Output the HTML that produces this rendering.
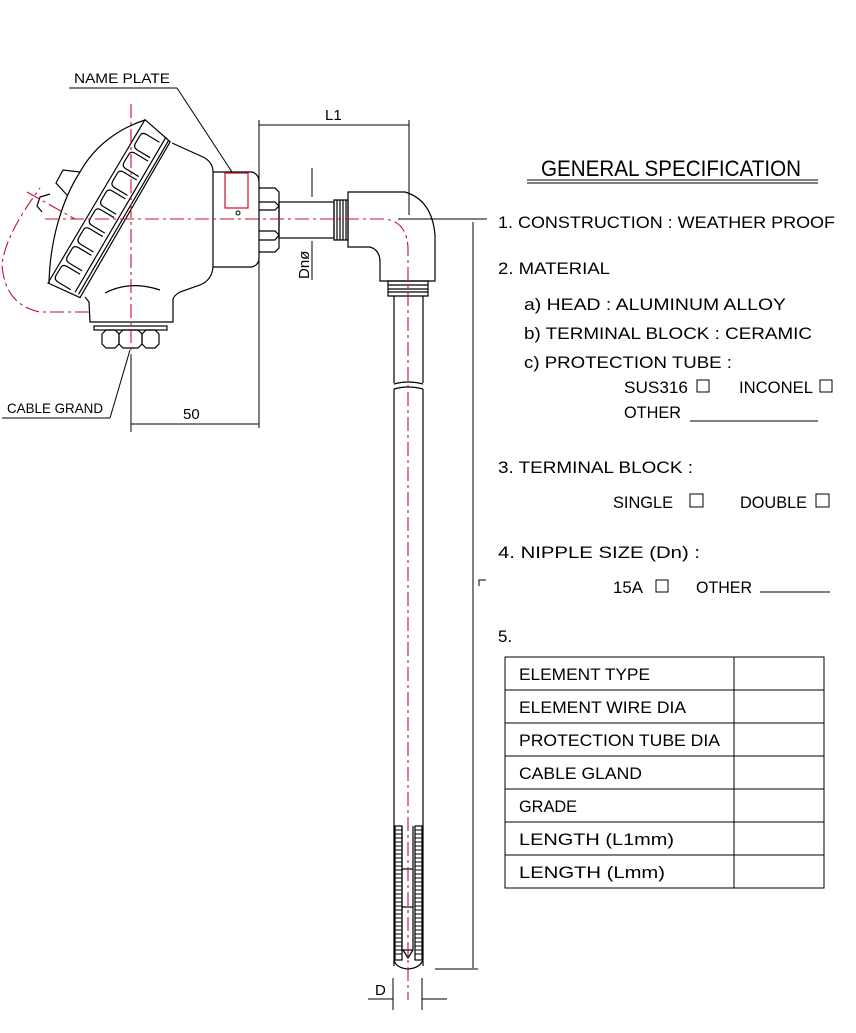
<!DOCTYPE html>
<html><head><meta charset="utf-8"><style>
html,body{margin:0;padding:0;background:#fff}
svg{display:block}
text{font-family:"Liberation Sans",sans-serif;fill:#000}
</style></head><body>
<svg width="856" height="1033" viewBox="0 0 856 1033" xmlns="http://www.w3.org/2000/svg">
<g fill="none" stroke="#000" stroke-width="1.2">
<path d="M145,120 C120,128 95,145 80,172 C62,200 50,240 49,283"/>
<g transform="translate(48,283) rotate(-59)">
<path d="M0,0 L190,-1 L184,32 L4,35 Z"/>
<line x1="6" y1="28" x2="186" y2="26"/>
<line x1="6" y1="32" x2="184" y2="30"/>
<path d="M6,23 L6,8 Q6,3 11,3 L20,3 Q24,3 24,8 L24,23"/>
<path d="M28,23 L28,8 Q28,3 33,3 L42,3 Q46,3 46,8 L46,23"/>
<path d="M50,23 L50,8 Q50,3 55,3 L64,3 Q68,3 68,8 L68,23"/>
<path d="M72,23 L72,8 Q72,3 77,3 L86,3 Q90,3 90,8 L90,23"/>
<path d="M94,23 L94,8 Q94,3 99,3 L108,3 Q112,3 112,8 L112,23"/>
<path d="M116,23 L116,8 Q116,3 121,3 L130,3 Q134,3 134,8 L134,23"/>
<path d="M138,23 L138,8 Q138,3 143,3 L152,3 Q156,3 156,8 L156,23"/>
<path d="M160,23 L160,8 Q160,3 165,3 L174,3 Q178,3 178,8 L178,23"/>
</g>
<path d="M172,143 L203,157 Q213,162 213,172 L213,267 Q212,280 200,285 L180,292 Q173,296 173,300 L173,322 L90,322 L89,302 L85,297"/>
<path d="M105,293 Q130,280 160,290"/>
<path d="M80,172 L63,170 L56,183 L67,195"/>
<path d="M50,194 L40,197 L37,206 L42,212"/>
<path d="M213,172 L252,172 Q259,174 259,182 L259,258 Q259,265 252,267 L213,267"/>
<rect x="94" y="326" width="73" height="4"/>
<path d="M102,334 L106,330 L115,330 L119,334 L119,344 L115,348 L106,348 L102,344 Z"/>
<path d="M119,334 L123,330 L138,330 L142,334 L142,344 L138,348 L123,348 L119,344 Z"/>
<path d="M142,334 L146,330 L155,330 L159,334 L159,344 L155,348 L146,348 L142,344 Z"/>
<path d="M259,188 L275,188 L279,192 L279,248 L275,252 L259,252"/>
<path d="M259,202 L275,202 L279,206 L275,210 L259,210"/>
<path d="M259,231 L275,231 L279,235 L275,240 L259,240"/>
<rect x="279" y="202" width="55" height="36"/>
<path d="M334,200 L348,200 L348,240 L334,240 Z"/>
<line x1="337" y1="200" x2="337" y2="240"/><line x1="340" y1="200" x2="340" y2="240"/><line x1="343" y1="200" x2="343" y2="240"/><line x1="346" y1="200" x2="346" y2="240"/>
<path d="M348,192 L348,247 L370,247 Q380,250 380,262 L380,281 L435,281 L435,235 Q432,200 405,192 Z"/>
<path d="M388,281 L428,281 L428,296 L388,296 Z"/>
<line x1="388" y1="285" x2="428" y2="285"/><line x1="388" y1="289" x2="428" y2="289"/><line x1="388" y1="292" x2="428" y2="292"/>
<line x1="394" y1="296" x2="394" y2="383"/><line x1="423" y1="296" x2="423" y2="383"/>
<line x1="394" y1="389" x2="394" y2="966"/><line x1="423" y1="389" x2="423" y2="966"/>
<path d="M394,384 Q408,380 423,384"/><path d="M394,389 Q408,385 423,389"/>
<rect x="395" y="826" width="7" height="134"/><rect x="415" y="826" width="7" height="134"/>
<line x1="402" y1="826" x2="402" y2="950"/><line x1="413" y1="826" x2="413" y2="950"/>
<line x1="402" y1="950" x2="413" y2="950"/>
<line x1="402" y1="869" x2="413" y2="869"/><line x1="402" y1="907" x2="413" y2="907"/>
<path d="M403,950 L408,958 L413,950"/>
<path d="M394,960 Q396,968 408,969 Q420,968 423,960"/>
</g>
<g stroke="#000" stroke-width="1">
<path d="M395,830H402M395,834H402M395,838H402M395,842H402M395,846H402M395,850H402M395,854H402M395,858H402M395,862H402M395,866H402M395,870H402M395,874H402M395,878H402M395,882H402M395,886H402M395,890H402M395,894H402M395,898H402M395,902H402M395,906H402M395,910H402M395,914H402M395,918H402M395,922H402M395,926H402M395,930H402M395,934H402M395,938H402M395,942H402M395,946H402M395,950H402M395,954H402"/>
<path d="M415,830H422M415,834H422M415,838H422M415,842H422M415,846H422M415,850H422M415,854H422M415,858H422M415,862H422M415,866H422M415,870H422M415,874H422M415,878H422M415,882H422M415,886H422M415,890H422M415,894H422M415,898H422M415,902H422M415,906H422M415,910H422M415,914H422M415,918H422M415,922H422M415,926H422M415,930H422M415,934H422M415,938H422M415,942H422M415,946H422M415,950H422M415,954H422"/>
</g>
<g fill="none" stroke="#c8102e" stroke-width="1.1" stroke-dasharray="14,4,3,4">
<line x1="131" y1="104" x2="131" y2="355"/>
<path d="M45,219 L385,219 Q408,222 408,250 L408,1000"/>
<path d="M89,312 L40,312 Q5,305 2,265 Q5,235 40,188"/>
<line x1="27" y1="192" x2="75" y2="219"/>
</g>
<rect x="225" y="173" width="23" height="35" fill="none" stroke="#c8102e" stroke-width="1.2"/>
<circle cx="238" cy="213" r="2" fill="none" stroke="#000"/>
<g fill="none" stroke="#000" stroke-width="1">
<line x1="259" y1="120" x2="259" y2="428"/>
<line x1="409" y1="120" x2="409" y2="215"/>
<line x1="259" y1="125" x2="409" y2="125"/>
<line x1="131" y1="355" x2="131" y2="432"/>
<line x1="131" y1="424" x2="259" y2="424"/>
<line x1="398" y1="219" x2="487" y2="219"/>
<line x1="312" y1="168" x2="312" y2="197"/>
<line x1="312" y1="241" x2="312" y2="280"/>
<line x1="69" y1="88" x2="177" y2="88"/><line x1="177" y1="88" x2="232" y2="172"/>
<line x1="2" y1="418" x2="110" y2="418"/><line x1="110" y1="418" x2="130" y2="350"/>
<line x1="473" y1="222" x2="473" y2="968"/>
<line x1="435" y1="969" x2="478" y2="969"/>
<path d="M479,586 L479,580 L486,580"/>
<line x1="393" y1="978" x2="393" y2="1010"/><line x1="422" y1="978" x2="422" y2="1010"/>
<line x1="368" y1="999" x2="393" y2="999"/><line x1="422" y1="999" x2="447" y2="999"/>
<line x1="527" y1="180" x2="818" y2="180"/><line x1="527" y1="183" x2="818" y2="183"/>
<line x1="690" y1="421" x2="818" y2="421"/>
<line x1="760" y1="592" x2="830" y2="592"/>
<rect x="697" y="380" width="12" height="12"/><rect x="820" y="380" width="12" height="12"/>
<rect x="690" y="494" width="13" height="13"/><rect x="816" y="494" width="13" height="13"/>
<rect x="656" y="580" width="12" height="12"/>
<rect x="505" y="657" width="319" height="231"/>
<line x1="734" y1="657" x2="734" y2="888"/>
<line x1="505" y1="690" x2="824" y2="690"/><line x1="505" y1="723" x2="824" y2="723"/>
<line x1="505" y1="756" x2="824" y2="756"/><line x1="505" y1="789" x2="824" y2="789"/>
<line x1="505" y1="822" x2="824" y2="822"/><line x1="505" y1="855" x2="824" y2="855"/>
</g>
<g font-size="14">
<text x="74" y="83" textLength="96" lengthAdjust="spacingAndGlyphs">NAME PLATE</text>
<text x="7" y="413" textLength="96" lengthAdjust="spacingAndGlyphs">CABLE GRAND</text>
<text x="325" y="120" font-size="15">L1</text>
<text x="183" y="419" font-size="15">50</text>
<text x="375" y="995" font-size="15">D</text>
<text transform="translate(309,279) rotate(-90)" font-size="15">Dnø</text>
</g>
<g font-size="17">
<text x="541" y="176" font-size="22" textLength="260" lengthAdjust="spacingAndGlyphs">GENERAL SPECIFICATION</text>
<text x="498" y="228" textLength="337" lengthAdjust="spacingAndGlyphs">1. CONSTRUCTION : WEATHER PROOF</text>
<text x="498" y="274" textLength="112" lengthAdjust="spacingAndGlyphs">2. MATERIAL</text>
<text x="524" y="310" textLength="262" lengthAdjust="spacingAndGlyphs">a) HEAD : ALUMINUM ALLOY</text>
<text x="524" y="339" textLength="288" lengthAdjust="spacingAndGlyphs">b) TERMINAL BLOCK : CERAMIC</text>
<text x="524" y="368" textLength="208" lengthAdjust="spacingAndGlyphs">c) PROTECTION TUBE :</text>
<text x="624" y="393" textLength="64" lengthAdjust="spacingAndGlyphs">SUS316</text>
<text x="739" y="393" textLength="74" lengthAdjust="spacingAndGlyphs">INCONEL</text>
<text x="624" y="418" textLength="57" lengthAdjust="spacingAndGlyphs">OTHER</text>
<text x="498" y="473" textLength="195" lengthAdjust="spacingAndGlyphs">3. TERMINAL BLOCK :</text>
<text x="613" y="508" textLength="60" lengthAdjust="spacingAndGlyphs">SINGLE</text>
<text x="740" y="508" textLength="67" lengthAdjust="spacingAndGlyphs">DOUBLE</text>
<text x="498" y="558" textLength="202" lengthAdjust="spacingAndGlyphs">4. NIPPLE SIZE (Dn) :</text>
<text x="613" y="593" textLength="30" lengthAdjust="spacingAndGlyphs">15A</text>
<text x="696" y="593" textLength="56" lengthAdjust="spacingAndGlyphs">OTHER</text>
<text x="498" y="642">5.</text>
<text x="519" y="680" textLength="131" lengthAdjust="spacingAndGlyphs">ELEMENT TYPE</text>
<text x="519" y="713" textLength="167" lengthAdjust="spacingAndGlyphs">ELEMENT WIRE DIA</text>
<text x="519" y="746" textLength="201" lengthAdjust="spacingAndGlyphs">PROTECTION TUBE DIA</text>
<text x="519" y="779" textLength="123" lengthAdjust="spacingAndGlyphs">CABLE GLAND</text>
<text x="519" y="812" textLength="58" lengthAdjust="spacingAndGlyphs">GRADE</text>
<text x="519" y="845" textLength="155" lengthAdjust="spacingAndGlyphs">LENGTH  (L1mm)</text>
<text x="519" y="878" textLength="146" lengthAdjust="spacingAndGlyphs">LENGTH  (Lmm)</text>
</g>
</svg>
</body></html>
